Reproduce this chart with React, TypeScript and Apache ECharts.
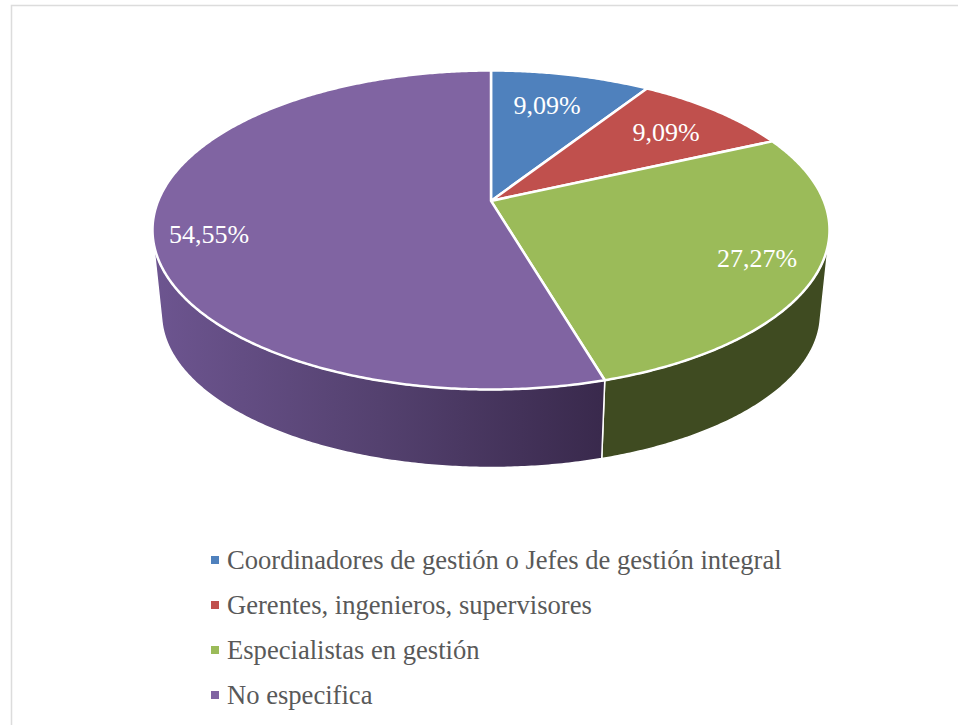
import React, { useEffect, useRef } from "react";
import * as echarts from "echarts";

const categories = [
  "Coordinadores de gestión o Jefes de gestión integral",
  "Gerentes, ingenieros, supervisores",
  "Especialistas en gestión",
  "No especifica",
];
const shares = [9.09, 9.09, 27.27, 54.55];
const topColors = ["#4f81bd", "#c0504d", "#9bbb59", "#8064a2"];
const labelAnchors = [
  [547, 105],
  [666, 132],
  [757, 258],
  [209, 234],
];

const FONT = '"Liberation Serif", "Times New Roman", serif';
const rim = { cx: 491, cy: 230, rx: 338.5, ry: 159.5 };
const base = { cx: 491, cy: 314, rx: 329.5, ry: 153.5 };
const TILT = 29 / 159;
const total = shares.reduce((a, b) => a + b, 0);
const starts = shares.map((_, i) => (shares.slice(0, i).reduce((a, b) => a + b, 0) / total) * 360);

// Perspective view of a circle: the pie's centre sits above the ellipse's centre.
const project = (deg: number, e: typeof rim, r = 1): number[] => {
  const t = (deg * Math.PI) / 180;
  const u = r * Math.sin(t);
  const v = r * Math.cos(t);
  const d = 1 + TILT * v;
  const py = (v + TILT) / d;
  const px = (u * Math.sqrt(1 - TILT * TILT)) / d;
  return [e.cx + e.rx * px, e.cy - e.ry * py];
};

// Where the outline of the wall leaves each ellipse (common tangent of the two).
const tangentY = (() => {
  let s = 0.1;
  for (let i = 0; i < 40; i++) {
    const c = Math.sqrt(1 - s * s);
    const h1 = rim.cy * s + Math.hypot(rim.rx * c, rim.ry * s);
    const h2 = base.cy * s + Math.hypot(base.rx * c, base.ry * s);
    s += (h1 - h2) / 400;
  }
  const c = Math.sqrt(1 - s * s);
  return {
    rim: rim.cy + (rim.ry * rim.ry * s) / Math.hypot(rim.rx * c, rim.ry * s),
    base: base.cy + (base.ry * base.ry * s) / Math.hypot(base.rx * c, base.ry * s),
  };
})();

const arcPoints = (from: number, sweep: number, e: typeof rim) => {
  const n = Math.ceil(sweep * 2);
  const pts: number[][] = [];
  for (let k = 0; k <= n; k++) pts.push(project(from + (sweep * k) / n, e));
  return pts;
};

const wallFill = (i: number) =>
  i === 3
    ? new echarts.graphic.LinearGradient(0, 0, 1, 0, [
        { offset: 0, color: "#6d5590" },
        { offset: 0.5, color: "#54416f" },
        { offset: 1, color: "#39294c" },
      ])
    : "#3f4b21";

export default function App() {
  const ref = useRef<HTMLDivElement>(null);
  useEffect(() => {
    const chart = echarts.init(ref.current!, undefined, { renderer: "svg" });
    const wallSeries = shares.map((_, i) => ({
      type: "custom",
      name: "wall-" + i,
      coordinateSystem: "none",
      silent: true,
      z: 1,
      data: [[shares[i]]],
      itemStyle: { color: topColors[i] },
      renderItem: (_p: any, api: any) => {
        const sweep = (api.value(0) / total) * 360;
        const top = arcPoints(starts[i], sweep, rim).filter((p) => p[1] >= tangentY.rim);
        const bot = arcPoints(starts[i], sweep, base).filter((p) => p[1] >= tangentY.base);
        if (top.length < 2 || bot.length < 2) return { type: "group", children: [] };
        return {
          type: "polygon",
          shape: { points: [...top, ...bot.reverse()] },
          style: { fill: wallFill(i), stroke: "#ffffff", lineWidth: 1.5, lineJoin: "round" },
        };
      },
    }));
    const topSeries = categories.map((name, i) => ({
      type: "custom",
      name,
      coordinateSystem: "none",
      silent: true,
      z: 2,
      data: [[shares[i]]],
      itemStyle: { color: topColors[i] },
      renderItem: (_p: any, api: any) => {
        const value = api.value(0);
        const sweep = (value / total) * 360;
        const points = [project(0, rim, 0), ...arcPoints(starts[i], sweep, rim)];
        return {
          type: "group",
          children: [
            {
              type: "polygon",
              shape: { points },
              style: { fill: topColors[i], stroke: "#ffffff", lineWidth: 2.5, lineJoin: "round" },
            },
            {
              type: "text",
              z2: 10,
              x: labelAnchors[i][0],
              y: labelAnchors[i][1],
              style: {
                text: value.toFixed(2).replace(".", ",") + "%",
                fill: "#ffffff",
                font: `26px ${FONT}`,
                align: "center",
                verticalAlign: "middle",
              },
            },
          ],
        };
      },
    }));
    chart.setOption({
      animation: false,
      backgroundColor: "#ffffff",
      graphic: [
        {
          type: "polyline",
          silent: true,
          shape: { points: [[11.5, 725], [11.5, 5.5], [958, 5.5]] },
          style: { fill: "none", stroke: "#dcdcdc", lineWidth: 1.5 },
        },
      ],
      legend: {
        orient: "vertical",
        left: 211,
        top: 545,
        data: categories,
        selectedMode: false,
        icon: "rect",
        itemWidth: 8,
        itemHeight: 8,
        itemGap: 15,
        padding: 0,
        textStyle: {
          fontFamily: FONT,
          fontSize: 26.6,
          color: "#595959",
          lineHeight: 30,
          padding: [0, 0, 0, 3],
        },
      },
      series: [...wallSeries, ...topSeries],
    });
    return () => chart.dispose();
  }, []);
  return <div ref={ref} style={{ position: "absolute", left: 0, top: 0, width: 958, height: 725 }} />;
}
